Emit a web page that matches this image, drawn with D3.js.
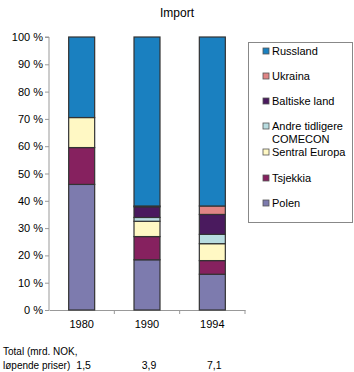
<!DOCTYPE html>
<html>
<head>
<meta charset="utf-8">
<script src="https://cdn.jsdelivr.net/npm/d3@7"></script>
<style>
  body { margin: 0; background: #fff; }
  text { font-family: "Liberation Sans", Arial, sans-serif; fill: #000; }
</style>
</head>
<body>
<div id="chart"></div>
<script>
// data
const years = ["1980", "1990", "1994"];
const totals = ["1,5", "3,9", "7,1"];
// stacked from bottom to top
const seriesNames = ["Polen", "Tsjekkia", "Sentral Europa", "Andre tidligere COMECON", "Baltiske land", "Ukraina", "Russland"];
const polen = [46, 18.4, 13.1];
const tsjekkia = [13.5, 8.5, 5.0];
const sentralEuropa = [11, 5.6, 6.2];
const andreComecon = [0, 1.4, 3.4];
const baltiske = [0, 3.9, 7.3];
const ukraina = [0, 0.3, 3.1];
const russland = [29.5, 61.9, 61.9];
const yTicks = [0, 10, 20, 30, 40, 50, 60, 70, 80, 90, 100];

const colors = ["#7d7bae", "#86215f", "#fff8c4", "#b8dce0", "#4a1a5e", "#e08585", "#1a80c0"];
const seriesVals = [polen, tsjekkia, sentralEuropa, andreComecon, baltiske, ukraina, russland];

const rows = years.map((y, i) => {
  const r = { year: y };
  seriesNames.forEach((s, k) => (r[s] = seriesVals[k][i]));
  return r;
});

const width = 354, height = 372;
const svg = d3.select("#chart").append("svg")
  .attr("width", width).attr("height", height);

const x = d3.scaleBand().domain(years).range([49, 245]);
const y = d3.scaleLinear().domain([0, 100]).range([310, 37]);
const barW = 26;

// title
svg.append("text").attr("x", 177).attr("y", 17)
  .attr("text-anchor", "middle").style("font-size", "12px").text("Import");

// y axis
const yAxis = svg.append("g").attr("transform", "translate(49,0)")
  .call(d3.axisLeft(y).tickValues(yTicks).tickSize(4).tickFormat(d => d + " %"));
yAxis.select(".domain").attr("stroke", "#999").attr("d", `M-4,${y(100)}H0V${y(0)}`);
yAxis.selectAll(".tick line").attr("stroke", "#999");
yAxis.selectAll(".tick text").style("font-size", "11px").attr("x", -6)
  .style("font-family", "Liberation Sans, Arial, sans-serif");

// x axis
const xAxis = svg.append("g").attr("transform", `translate(0,${y(0)})`)
  .call(d3.axisBottom(x).tickSize(0).tickFormat(""));
xAxis.select(".domain").attr("stroke", "#999");
xAxis.selectAll(".tick").remove();
svg.append("g").selectAll("line")
  .data(years.map(d => x(d) + x.bandwidth()))
  .join("line")
  .attr("x1", d => d).attr("x2", d => d)
  .attr("y1", y(0)).attr("y2", y(0) + 4)
  .attr("stroke", "#999");

svg.append("g").selectAll("text")
  .data(years).join("text")
  .attr("x", d => x(d) + x.bandwidth() / 2)
  .attr("y", y(0) + 18)
  .attr("text-anchor", "middle")
  .style("font-size", "11px")
  .text(d => d);

// stacks
const stack = d3.stack().keys(seriesNames);
const layers = stack(rows);

svg.append("g").selectAll("g")
  .data(layers).join("g")
  .attr("fill", (d, i) => colors[i])
  .selectAll("rect")
  .data(d => d.filter(p => p[1] - p[0] > 0))
  .join("rect")
  .attr("x", d => x(d.data.year) + (x.bandwidth() - barW) / 2)
  .attr("width", barW)
  .attr("y", d => y(d[1]))
  .attr("height", d => y(d[0]) - y(d[1]))
  .attr("stroke", "#333")
  .attr("stroke-width", 1.2);

// totals
svg.append("text").attr("x", 3).attr("y", 355).style("font-size", "10px").text("Total (mrd. NOK,");
svg.append("text").attr("x", 3).attr("y", 369).style("font-size", "10px").text("løpende priser)");
svg.append("g").selectAll("text")
  .data(years).join("text")
  .attr("x", d => x(d) + x.bandwidth() / 2 + 2)
  .attr("y", 369)
  .attr("text-anchor", "middle")
  .style("font-size", "10.5px")
  .text((d, i) => totals[i]);

// legend
svg.append("rect").attr("x", 248.5).attr("y", 42.5).attr("width", 104).attr("height", 180)
  .attr("fill", "none").attr("stroke", "#888");

const legendOrder = seriesNames.slice().reverse();
const legendY = [51, 76, 101, 126, 152, 178, 203];
const lg = svg.append("g").selectAll("g")
  .data(legendOrder).join("g")
  .attr("transform", (d, i) => `translate(263,${legendY[i]})`);
lg.append("rect").attr("x", 0).attr("y", -3).attr("width", 6).attr("height", 6)
  .attr("fill", d => colors[seriesNames.indexOf(d)])
  .attr("stroke", "#555").attr("stroke-width", 0.8);
lg.append("text").attr("x", 9).attr("y", 4)
  .style("font-size", "11px")
  .each(function (d) {
    const t = d3.select(this);
    if (d === "Andre tidligere COMECON") {
      t.append("tspan").attr("x", 9).text("Andre tidligere");
      t.append("tspan").attr("x", 9).attr("dy", 13).text("COMECON");
    } else {
      t.text(d);
    }
  });
</script>
</body>
</html>
